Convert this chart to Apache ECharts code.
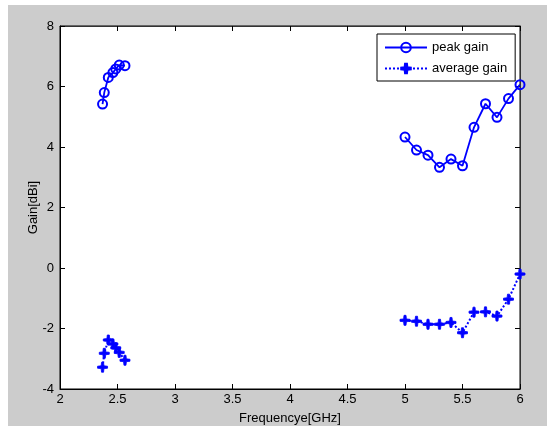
<!DOCTYPE html>
<html>
<head>
<meta charset="utf-8">
<script src="https://cdn.jsdelivr.net/npm/echarts@6/dist/echarts.min.js"></script>
<style>
html,body{margin:0;padding:0;background:#fff;}
#chart{width:547px;height:426px;}
</style>
</head>
<body>
<div id="chart"></div>
<script>
// Data
var freqLow = [2.37, 2.385, 2.42, 2.46, 2.485, 2.515, 2.565];
var peakLow = [5.42, 5.80, 6.30, 6.46, 6.58, 6.71, 6.69];
var avgLow = [-3.28, -2.82, -2.38, -2.51, -2.64, -2.79, -3.05];
var freqHigh = [5.0, 5.1, 5.2, 5.3, 5.4, 5.5, 5.6, 5.7, 5.8, 5.9, 6.0];
var peakHigh = [4.33, 3.90, 3.73, 3.33, 3.60, 3.38, 4.65, 5.43, 4.98, 5.60, 6.06];
var avgHigh = [-1.73, -1.76, -1.86, -1.86, -1.80, -2.14, -1.46, -1.45, -1.59, -1.03, -0.20];
var xTicks = ['2', '2.5', '3', '3.5', '4', '4.5', '5', '5.5', '6'];
var seriesNames = ['peak gain', 'average gain'];

function build(fl, vl, fh, vh) {
  var d = [];
  for (var i = 0; i < fl.length; i++) d.push([fl[i], vl[i]]);
  d.push([3.5, '-']);
  for (var j = 0; j < fh.length; j++) d.push([fh[j], vh[j]]);
  return d;
}

var plusPath = 'path://M4,0 L6,0 L6.4,3.6 L10,4 L10,6 L6.4,6.4 L6,10 L4,10 L3.6,6.4 L0,6 L0,4 L3.6,3.6 Z';
var font = 'Liberation Sans, Arial, sans-serif';

var chart = echarts.init(document.getElementById('chart'), null, {renderer: 'canvas'});
chart.setOption({
  backgroundColor: '#cccccc',
  animation: false,
  graphic: [
    {type: 'rect', shape: {x: 0, y: 0, width: 547, height: 5}, style: {fill: '#fff'}, z: -10, silent: true},
    {type: 'rect', shape: {x: 0, y: 0, width: 8, height: 426}, style: {fill: '#fff'}, z: -10, silent: true}
  ],
  grid: {
    left: 60, top: 26, width: 460, height: 363,
    outerBoundsMode: 'none', containLabel: false,
    show: true, backgroundColor: '#ffffff', borderColor: '#000', borderWidth: 1
  },
  legend: {
    orient: 'vertical',
    left: 377, top: 34,
    padding: [7, 8, 6, 7],
    itemWidth: 42, itemHeight: 12, itemGap: 8,
    backgroundColor: '#fff', borderColor: '#000', borderWidth: 1,
    textStyle: {fontFamily: font, fontSize: 13, color: '#000'},
    data: seriesNames
  },
  xAxis: [{
    type: 'value', min: 2, max: 6, interval: 0.5,
    name: 'Frequencye[GHz]', nameLocation: 'middle', nameGap: 23, nameMoveOverlap: false,
    nameTextStyle: {fontFamily: font, fontSize: 13, color: '#000'},
    axisLine: {onZero: false, lineStyle: {color: '#000'}},
    axisTick: {inside: true, length: 5, lineStyle: {color: '#000'}},
    axisLabel: {fontFamily: font, fontSize: 13, color: '#000', margin: 4,
      formatter: function (v) { var s = String(Math.round(v * 10) / 10); return xTicks.indexOf(s) >= 0 ? s : ''; }},
    splitLine: {show: false}
  }, {
    type: 'value', position: 'top', min: 2, max: 6, interval: 0.5,
    axisLine: {onZero: false, lineStyle: {color: '#333'}},
    axisTick: {inside: true, length: 5, lineStyle: {color: '#000'}},
    axisLabel: {show: false}, splitLine: {show: false}
  }],
  yAxis: [{
    type: 'value', min: -4, max: 8, interval: 2,
    name: 'Gain[dBi]', nameLocation: 'middle', nameGap: 20, nameMoveOverlap: false,
    nameTextStyle: {fontFamily: font, fontSize: 13, color: '#000'},
    axisLine: {show: true, onZero: false, lineStyle: {color: '#000'}},
    axisTick: {show: true, inside: true, length: 5, lineStyle: {color: '#000'}},
    axisLabel: {fontFamily: font, fontSize: 13, color: '#000', margin: 6},
    splitLine: {show: false}
  }, {
    type: 'value', position: 'right', min: -4, max: 8, interval: 2,
    axisLine: {show: true, onZero: false, lineStyle: {color: '#333'}},
    axisTick: {show: true, inside: true, length: 5, lineStyle: {color: '#000'}},
    axisLabel: {show: false}, splitLine: {show: false}
  }],
  series: [{
    name: seriesNames[0], type: 'line', clip: false,
    data: build(freqLow, peakLow, freqHigh, peakHigh),
    connectNulls: false,
    symbol: 'circle', symbolSize: 9,
    lineStyle: {color: '#0000ff', width: 1.8, type: 'solid'},
    itemStyle: {color: 'rgba(255,255,255,0)', borderColor: '#0000ff', borderWidth: 2}
  }, {
    name: seriesNames[1], type: 'line', clip: false,
    data: build(freqLow, avgLow, freqHigh, avgHigh),
    connectNulls: false,
    symbol: plusPath, symbolSize: 10,
    lineStyle: {color: '#0000ff', width: 2, type: 'dotted'},
    itemStyle: {color: '#0000ff', borderColor: '#0000ff', borderWidth: 0.8}
  }]
});
</script>
</body>
</html>
